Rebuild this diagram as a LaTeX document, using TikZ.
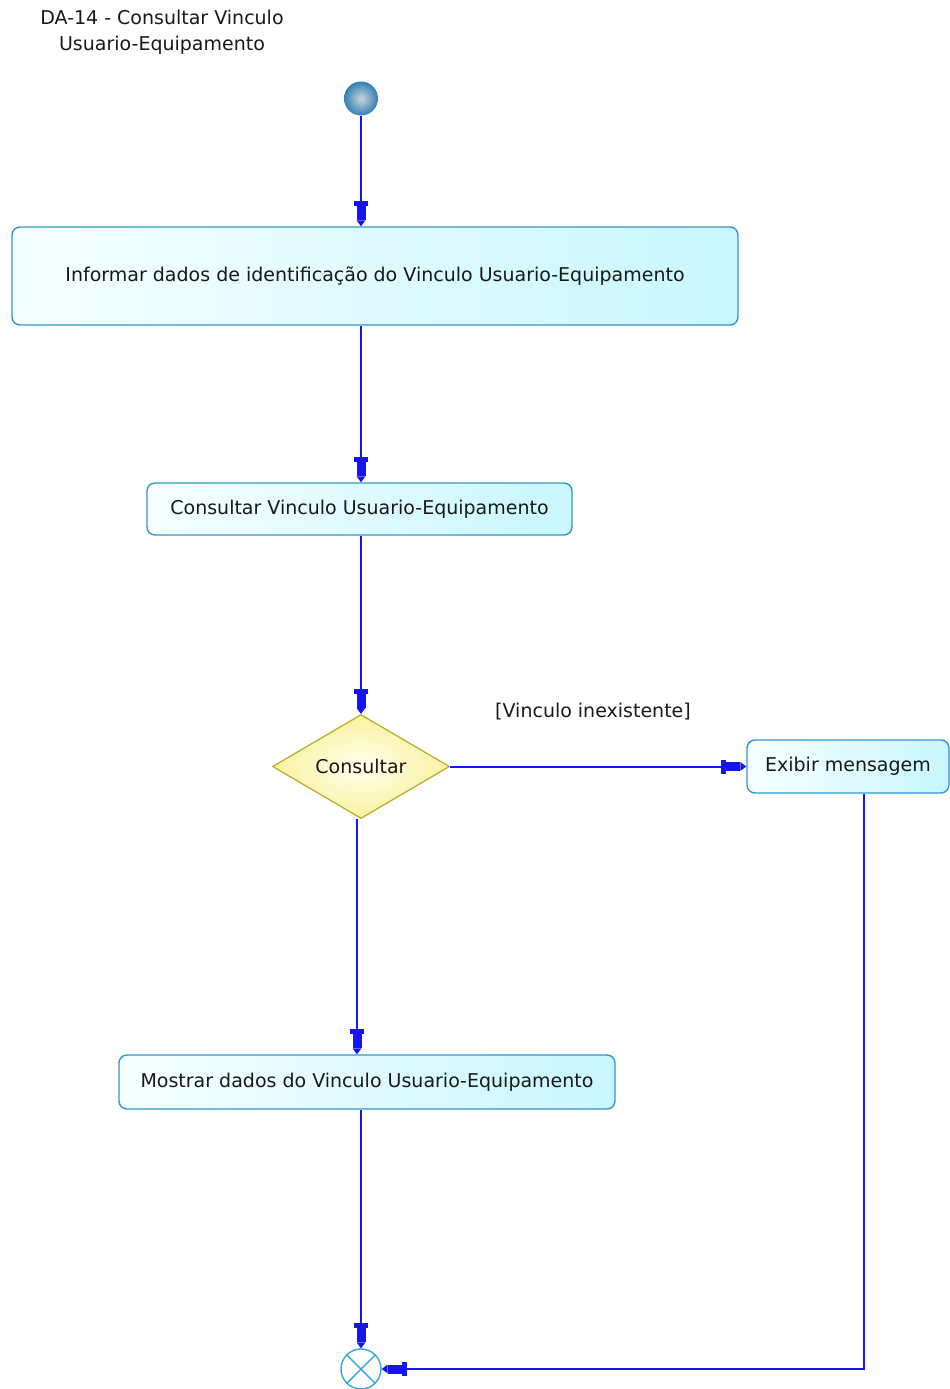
\documentclass[tikz,border=0pt]{standalone}
\usepackage{fontspec}
\setmainfont{DejaVu Sans}
\usetikzlibrary{arrows.meta,shapes.geometric}
\definecolor{flow}{RGB}{20,20,245}
\definecolor{boxedge}{RGB}{52,150,205}
\definecolor{boxtop}{RGB}{246,255,255}
\definecolor{boxbot}{RGB}{200,246,255}
\definecolor{diaedge}{RGB}{185,170,30}
\definecolor{diain}{RGB}{255,255,236}
\definecolor{diaout}{RGB}{250,242,160}
\definecolor{startin}{RGB}{205,212,218}
\definecolor{startout}{RGB}{50,128,180}
\definecolor{endedge}{RGB}{60,165,215}
\tikzset{
  x=1pt,y=-1pt,
  every node/.style={font=\fontsize{19}{26}\selectfont, text=black!90},
  act/.style={draw=boxedge, line width=1.4pt, rounded corners=8pt,
    shading angle=135, left color=boxtop, right color=boxbot, inner sep=0pt},
  decis/.style={diamond, draw=diaedge, line width=1.2pt, inner sep=0pt,
    shading=radial, inner color=diain, outer color=diaout, aspect=1.7},
  flowtip/.tip={Rectangle[length=5pt,width=14pt,line width=0pt,sep=0pt]
     Rectangle[length=14pt,width=9pt,line width=0pt,sep=0pt]
     Triangle[length=6pt,width=9pt,line width=0pt,sep=0pt]},
  flowline/.style={draw=flow, line width=2pt, -{flowtip}},
}
\begin{document}
\begin{tikzpicture}
\useasboundingbox (0,0) rectangle (950,1389);
\node[align=center] (title) at (162,32) {DA-14 - Consultar Vinculo\\Usuario-Equipamento};
\node[circle, minimum size=34pt, inner sep=0pt, inner color=startin, outer color=startout] (start) at (361,98.5) {};
\node[act, minimum width=726pt, minimum height=98pt] (inf) at (375,276) {Informar dados de identificação do Vinculo Usuario-Equipamento};
\node[act, minimum width=425pt, minimum height=52pt] (cons) at (359.5,509) {Consultar Vinculo Usuario-Equipamento};
\node[decis, minimum width=177pt, minimum height=104pt] (dec) at (361,766.5) {Consultar};
\node[act, minimum width=202pt, minimum height=53pt] (msg) at (848,766.5) {Exibir mensagem};
\node[act, minimum width=496pt, minimum height=54pt] (most) at (367,1082) {Mostrar dados do Vinculo Usuario-Equipamento};
\node[circle, draw=endedge, line width=1.4pt, fill=white, minimum size=40pt, inner sep=0pt] (fin) at (361,1369) {};
\draw[endedge, line width=1.4pt] (fin.45) -- (fin.225) (fin.135) -- (fin.315);
\node (guard) at (593,712) {[Vinculo inexistente]};
\coordinate (bend) at (864,1369);
\path[flowline] (start) -- (start |- inf.north);
\path[flowline] (inf.south -| start) -- (cons.north -| start);
\path[flowline] (cons.south -| start) -- (dec.north);
\path[flowline] (dec.east) -- (msg.west);
\path[flowline] ([xshift=-4pt]dec.south) -- ([xshift=-4pt]dec.south |- most.north);
\path[flowline] (most.south -| fin) -- (fin.north);
\path[flowline] (msg.south -| bend) -- (bend) -- (fin.east);
\end{tikzpicture}
\end{document}
